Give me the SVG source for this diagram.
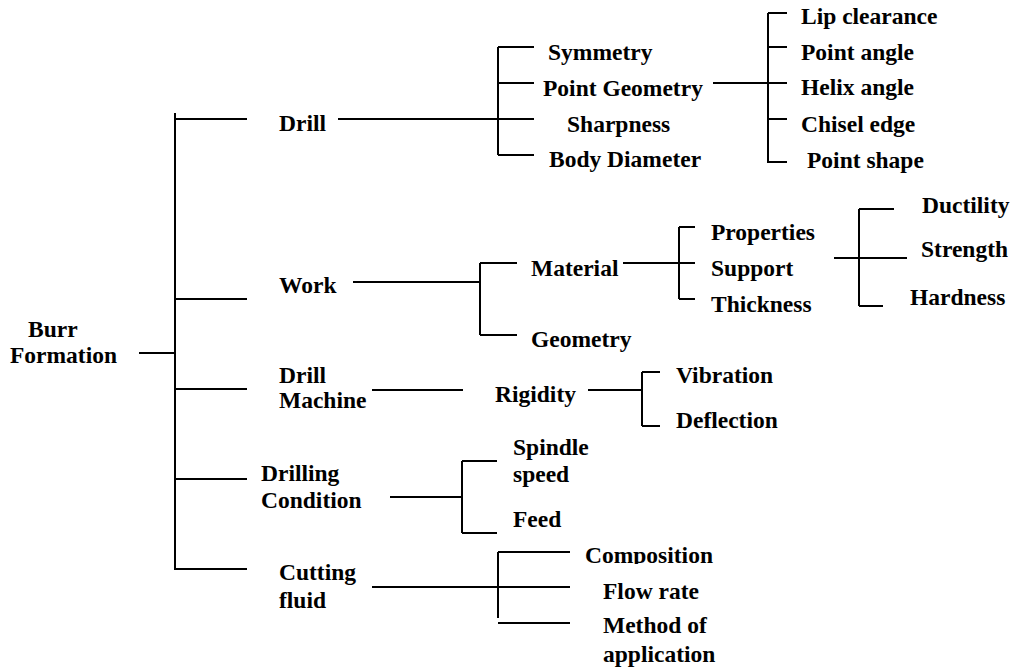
<svg xmlns="http://www.w3.org/2000/svg" width="1013" height="669" viewBox="0 0 1013 669">
<style>
.t text{font-weight:bold;font-size:23.5px;fill:#000}
.c line{stroke:#000;stroke-width:2;fill:none}
</style>
<defs><clipPath id="clipComp"><rect x="580" y="530" width="150" height="34"/></clipPath></defs>
<rect width="1013" height="669" fill="#fff"/>
<g id="connectors" class="c">
<line x1="139" y1="353" x2="175" y2="353"/>
<line x1="175" y1="113" x2="175" y2="570"/>
<line x1="175" y1="119" x2="247" y2="119"/>
<line x1="175" y1="299" x2="247" y2="299"/>
<line x1="175" y1="389" x2="247" y2="389"/>
<line x1="175" y1="479" x2="247" y2="479"/>
<line x1="175" y1="569" x2="247" y2="569"/>
<line x1="338" y1="119" x2="498" y2="119"/>
<line x1="498" y1="47" x2="498" y2="155"/>
<line x1="498" y1="47" x2="534" y2="47"/>
<line x1="498" y1="83" x2="534" y2="83"/>
<line x1="498" y1="119" x2="534" y2="119"/>
<line x1="498" y1="155" x2="534" y2="155"/>
<line x1="713" y1="83" x2="768" y2="83"/>
<line x1="768" y1="13" x2="768" y2="163"/>
<line x1="768" y1="13" x2="787" y2="13"/>
<line x1="768" y1="47" x2="787" y2="47"/>
<line x1="768" y1="83" x2="787" y2="83"/>
<line x1="768" y1="119" x2="787" y2="119"/>
<line x1="768" y1="162" x2="787" y2="162"/>
<line x1="353" y1="282" x2="480" y2="282"/>
<line x1="480" y1="263" x2="480" y2="335"/>
<line x1="480" y1="263" x2="517" y2="263"/>
<line x1="480" y1="335" x2="517" y2="335"/>
<line x1="623" y1="263" x2="679" y2="263"/>
<line x1="679" y1="227" x2="679" y2="299"/>
<line x1="679" y1="227" x2="695" y2="227"/>
<line x1="679" y1="263" x2="695" y2="263"/>
<line x1="679" y1="299" x2="695" y2="299"/>
<line x1="834" y1="258" x2="907" y2="258"/>
<line x1="859" y1="209" x2="859" y2="306"/>
<line x1="859" y1="209" x2="894" y2="209"/>
<line x1="859" y1="306" x2="883" y2="306"/>
<line x1="372" y1="390" x2="463" y2="390"/>
<line x1="588" y1="390" x2="642" y2="390"/>
<line x1="642" y1="372" x2="642" y2="426"/>
<line x1="642" y1="372" x2="660" y2="372"/>
<line x1="642" y1="426" x2="660" y2="426"/>
<line x1="390" y1="497" x2="462" y2="497"/>
<line x1="462" y1="461" x2="462" y2="533"/>
<line x1="462" y1="461" x2="497" y2="461"/>
<line x1="462" y1="533" x2="497" y2="533"/>
<line x1="372" y1="587" x2="570" y2="587"/>
<line x1="498" y1="552" x2="498" y2="618"/>
<line x1="498" y1="552" x2="570" y2="552"/>
<line x1="498" y1="623" x2="570" y2="623"/>
</g>
<g class="t" font-family="'Liberation Serif', 'Times New Roman', serif">
<g id="burr-formation"><text x="28" y="337">Burr</text><text x="10" y="363">Formation</text></g>
<g id="drill"><text x="279" y="131">Drill</text></g>
<g id="symmetry"><text x="548" y="60">Symmetry</text></g>
<g id="point-geometry"><text x="543" y="96">Point Geometry</text></g>
<g id="sharpness"><text x="567" y="132">Sharpness</text></g>
<g id="body-diameter"><text x="549" y="167">Body Diameter</text></g>
<g id="lip-clearance"><text x="801" y="24">Lip clearance</text></g>
<g id="point-angle"><text x="801" y="60">Point angle</text></g>
<g id="helix-angle"><text x="801" y="95">Helix angle</text></g>
<g id="chisel-edge"><text x="801" y="132">Chisel edge</text></g>
<g id="point-shape"><text x="807" y="168">Point shape</text></g>
<g id="work"><text x="279" y="293">Work</text></g>
<g id="material"><text x="531" y="276">Material</text></g>
<g id="geometry"><text x="531" y="347">Geometry</text></g>
<g id="properties"><text x="711" y="240">Properties</text></g>
<g id="support"><text x="711" y="276">Support</text></g>
<g id="thickness"><text x="711" y="312">Thickness</text></g>
<g id="ductility"><text x="922" y="213">Ductility</text></g>
<g id="strength"><text x="921" y="257">Strength</text></g>
<g id="hardness"><text x="910" y="305">Hardness</text></g>
<g id="drill-machine"><text x="279" y="383">Drill</text><text x="279" y="408">Machine</text></g>
<g id="rigidity"><text x="495" y="402">Rigidity</text></g>
<g id="vibration"><text x="676" y="383">Vibration</text></g>
<g id="deflection"><text x="676" y="428">Deflection</text></g>
<g id="drilling-condition"><text x="261" y="481">Drilling</text><text x="261" y="508">Condition</text></g>
<g id="spindle-speed"><text x="513" y="455">Spindle</text><text x="513" y="482">speed</text></g>
<g id="feed"><text x="513" y="527">Feed</text></g>
<g id="cutting-fluid"><text x="279" y="580">Cutting</text><text x="279" y="608">fluid</text></g>
<g id="composition"><text x="585" y="563" clip-path="url(#clipComp)">Composition</text></g>
<g id="flow-rate"><text x="603" y="599">Flow rate</text></g>
<g id="method-of-application"><text x="603" y="633">Method of</text><text x="603" y="662">application</text></g>
</g>
</svg>
